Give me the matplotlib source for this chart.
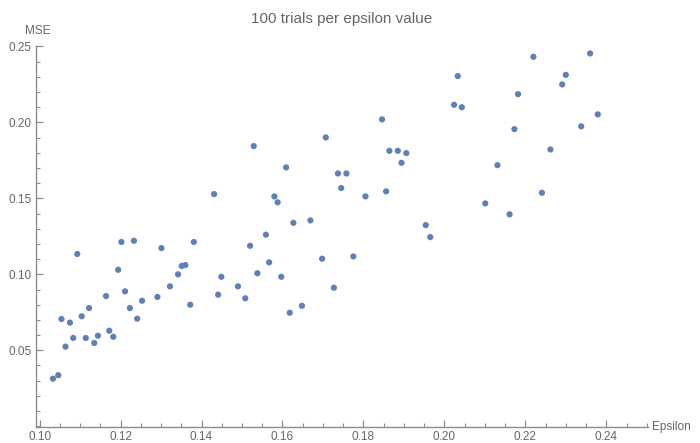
import matplotlib
matplotlib.use("Agg")
import matplotlib.pyplot as plt
import numpy as np
from matplotlib.ticker import MultipleLocator, FormatStrFormatter

epsilon = [0.1033, 0.1046, 0.1054, 0.1064, 0.1075, 0.1083, 0.1093, 0.1104, 0.1114, 0.1122,
           0.1135, 0.1144, 0.1164, 0.1172, 0.1182, 0.1194, 0.1202, 0.1211, 0.1223, 0.1233,
           0.1241, 0.1253, 0.1291, 0.1301, 0.1322, 0.1342, 0.1351, 0.1360, 0.1372, 0.1381,
           0.1431, 0.1441, 0.1449, 0.1490, 0.1508, 0.1520, 0.1529, 0.1538, 0.1559, 0.1567,
           0.1580, 0.1588, 0.1597, 0.1609, 0.1618, 0.1627, 0.1648, 0.1669, 0.1698, 0.1707,
           0.1727, 0.1737, 0.1745, 0.1758, 0.1775, 0.1805, 0.1846, 0.1856, 0.1864, 0.1885,
           0.1894, 0.1906, 0.1954, 0.1965, 0.2024, 0.2033, 0.2043, 0.2101, 0.2131, 0.2161,
           0.2173, 0.2182, 0.2220, 0.2241, 0.2262, 0.2291, 0.2300, 0.2338, 0.2360, 0.2379]
mse = [0.0313, 0.0336, 0.0706, 0.0524, 0.0682, 0.0581, 0.1134, 0.0724, 0.0581, 0.0778,
       0.0548, 0.0596, 0.0857, 0.0629, 0.0589, 0.1030, 0.1213, 0.0888, 0.0778, 0.1221,
       0.0708, 0.0826, 0.0851, 0.1173, 0.0921, 0.1000, 0.1055, 0.1061, 0.0800, 0.1213,
       0.1528, 0.0866, 0.0984, 0.0921, 0.0842, 0.1188, 0.1844, 0.1007, 0.1261, 0.1079,
       0.1513, 0.1474, 0.0984, 0.1704, 0.0747, 0.1339, 0.0793, 0.1355, 0.1103, 0.1901,
       0.0912, 0.1664, 0.1568, 0.1664, 0.1118, 0.1513, 0.2020, 0.1546, 0.1813, 0.1813,
       0.1734, 0.1798, 0.1324, 0.1245, 0.2116, 0.2305, 0.2100, 0.1467, 0.1719, 0.1395,
       0.1956, 0.2186, 0.2432, 0.1537, 0.1822, 0.2250, 0.2313, 0.1974, 0.2454, 0.2053]

plt.rcParams["font.family"] = ["Liberation Sans", "DejaVu Sans"]

axis_col = "#8c8c8c"
text_col = "#666666"

fig = plt.figure(figsize=(7, 4.43), dpi=100)
ax = fig.add_axes([0.0514, 0.0361, 0.8743, 0.859])

ax.scatter(epsilon, mse, s=20, color="#5e81b5", edgecolors="none", zorder=3)

ax.set_xlim(0.0991, 0.2503)
ax.set_ylim(-0.0005, 0.25)

ax.spines["top"].set_visible(False)
ax.spines["right"].set_visible(False)
for s in ("left", "bottom"):
    ax.spines[s].set_color(axis_col)
    ax.spines[s].set_linewidth(1.0)

ax.xaxis.set_minor_locator(MultipleLocator(0.005))
ax.yaxis.set_minor_locator(MultipleLocator(0.01))
ax.set_xticks(np.arange(0.10, 0.2401, 0.02))
ax.set_yticks(np.arange(0.05, 0.2501, 0.05))
ax.xaxis.set_major_formatter(FormatStrFormatter("%.2f"))
ax.yaxis.set_major_formatter(FormatStrFormatter("%.2f"))

ax.tick_params(which="both", direction="in", color=axis_col, labelcolor=text_col,
               labelsize=8.5)
ax.tick_params(which="major", length=5, width=0.9)
ax.tick_params(which="minor", length=3, width=0.8)
ax.tick_params(axis="x", pad=3)
ax.tick_params(axis="y", pad=3)

ax.set_title("100 trials per epsilon value", color=text_col, fontsize=11, pad=17)
fig.text(38 / 700, 1 - 31 / 443, "MSE", color=text_col, fontsize=8.5,
         ha="center", va="center")
fig.text(652 / 700, 1 - 427 / 443, "Epsilon", color=text_col, fontsize=8.5,
         ha="left", va="center")

fig.savefig("out.png", dpi=100)
